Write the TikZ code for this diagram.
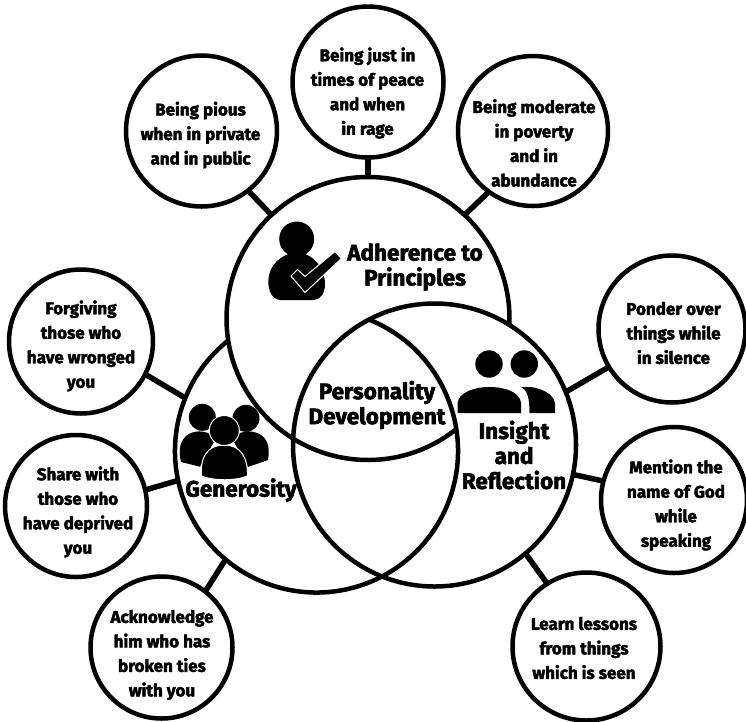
\documentclass[tikz,border=0pt]{standalone}
\usepackage{fontspec}
\setmainfont{Fira Sans}[BoldFeatures={FakeBold=2.4}]
\tikzset{
  ring/.style={line width=4.5pt,line cap=butt},
  hub/.style={circle,inner sep=0pt,outer sep=0pt,minimum size=283pt},
  leaf/.style={circle,draw=black,line width=4.5pt,inner sep=0pt,outer sep=0pt,minimum size=#1},
  spoke/.style={line width=5.5pt,line cap=butt},
  leaftext/.style={align=center,font=\fontsize{17}{24.5}\selectfont\bfseries,inner sep=0pt},
  hubtext/.style={align=center,font=\fontsize{22.5}{25}\selectfont\bfseries,inner sep=0pt},
  icon/.style={fill=black,draw=none},
  iconedge/.style={fill=black,draw=white,line width=1pt}
}
\begin{document}
\begin{tikzpicture}[x=1pt,y=-1pt]
\useasboundingbox (0,0) rectangle (746,721);
% hubs (invisible anchors, rings drawn as arcs below)
\node[hub] (adh) at (368,318.5) {};
\node[hub] (gen) at (316.5,451) {};
\node[hub] (ins) at (434.5,445) {};
% leaves
\node[leaf=151pt] (s1) at (201.5,131) {};
\node[leaf=151pt] (s2) at (368,82) {};
\node[leaf=150pt] (s3) at (533,131) {};
\node[leaf=147pt] (s4) at (672,329) {};
\node[leaf=146pt] (s5) at (674,500) {};
\node[leaf=148pt] (s6) at (586.5,646.5) {};
\node[leaf=142pt] (s7) at (161.5,647.5) {};
\node[leaf=142pt] (s8) at (76,506) {};
\node[leaf=144pt] (s9) at (81,341.5) {};
% connectors
\draw[spoke] (s1.-52.7) -- (adh.133.5);
\draw[spoke] (s2.south) -- (adh.north);
\draw[spoke] (s3.234) -- (adh.47.5);
\draw[spoke] (s4.211.4) -- (ins.22.5);
\draw[spoke] (s5.165.8) -- (ins.-12.4);
\draw[spoke] (s6.122.3) -- (ins.-50.5);
\draw[spoke] (s7.52.9) -- (gen.230.8);
\draw[spoke] (s8.13.3) -- (gen.192.9);
\draw[spoke] (s9.-27) -- (gen.158);
% rings
\draw[ring] (adh.center) ++(51.4:141.5) arc[start angle=51.4,end angle=362.6,radius=141.5];
\draw[ring] (gen.center) ++(291.8:141.5) arc[start angle=291.8,end angle=591.4,radius=141.5];
\draw[ring] (ins.center) circle[radius=141.5];
% icon: person with check
\fill[icon] (296.7,239) circle[radius=17.5];
\path[icon] (280,300) .. controls (272,299) and (268,291) .. (268.3,280)
  .. controls (269,266) and (280,254) .. (297,252)
  .. controls (314,254) and (325,268) .. (325,284)
  .. controls (325,293) and (321,299) .. (314,300) -- cycle;
\path[iconedge] (291,276) -- (297.5,269.5) -- (305,276.5) -- (335,251.5) -- (341.5,258.5) -- (305,292.5) -- cycle;
% icon: three people
\fill[icon] (202.3,417.3) circle[radius=13.5];
\fill[icon] (246,418.3) circle[radius=13.5];
\path[icon] (181,462) .. controls (178,450) and (179,434) .. (197,431.5)
  .. controls (205,431) and (212,433) .. (215,440) -- (200,466.7) -- cycle;
\path[icon] (268,460) .. controls (270,448) and (269,434) .. (251,431.5)
  .. controls (243,431) and (236,433) .. (233,440) -- (248,467) -- cycle;
\path[iconedge] (201.5,476) .. controls (200,458) and (207,445) .. (224,445)
  .. controls (241,445) and (248,458) .. (247.5,476)
  .. controls (235,481) and (214,481) .. (201.5,476) -- cycle;
\path[iconedge] (224.3,430.5) circle[radius=15];
% icon: two people
\fill[icon] (489,364) circle[radius=13.7];
\fill[icon] (524.3,364) circle[radius=13.7];
\path[icon] (457.5,413) -- (457.5,403) .. controls (459,392) and (475,387) .. (489,387)
  .. controls (505,387) and (520,392) .. (521,403) -- (521,413) -- cycle;
\path[icon] (521,387) .. controls (528,390) and (529.5,400) .. (529.5,413) -- (555,413) -- (555,403)
  .. controls (553,393) and (540,388) .. (530,387) -- cycle;
% leaf texts
\node[leaftext] (t1) at (200.5,135) {Being pious\\when in private\\and in public};
\node[leaftext] (t2) at (367.5,93) {Being just in\\times of peace\\and when\\in rage};
\node[leaftext] (t3) at (534,143) {Being moderate\\in poverty\\and in\\abundance};
\node[leaftext] (t4) at (673.5,333) {Ponder over\\things while\\in silence};
\node[leaftext] (t5) at (676,505) {Mention the\\name of God\\while\\speaking};
\node[leaftext] (t6) at (584,648) {Learn lessons\\from things\\which is seen};
\node[leaftext] (t7) at (162,655) {Acknowledge\\him who has\\broken ties\\with you};
\node[leaftext] (t8) at (78,512) {Share with\\those who\\have deprived\\you};
\node[leaftext] (t9) at (81,346) {Forgiving\\those who\\have wronged\\you};
% hub texts
\node[hubtext] (h1) at (415,267) {Adherence to\\Principles};
\node[hubtext] (h2) at (377,405) {Personality\\Development};
\node[hubtext] (h3) at (514,455) {Insight\\and\\Reflection};
\node[hubtext] (h4) at (241,490) {Generosity};
\end{tikzpicture}
\end{document}
